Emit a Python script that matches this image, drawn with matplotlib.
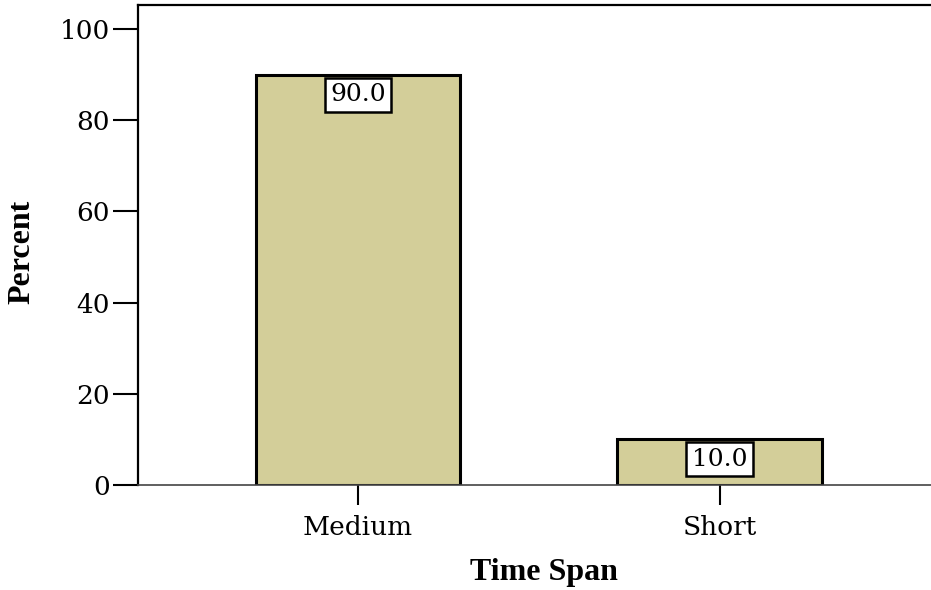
import matplotlib.pyplot as plt

# dati
categories = ["Medium", "Short"]
percent = [90.0, 10.0]
y_ticks = [0, 20, 40, 60, 80, 100]

bar_color = "#d3ce99"
tick_font = "DejaVu Serif"
label_font = "Liberation Serif"

fig = plt.figure(figsize=(9.31, 5.90), dpi=100)
ax = fig.add_axes([138 / 931, 105 / 590, 802 / 931, 480 / 590])

x = list(range(len(categories)))
bars = ax.bar(x, percent, width=0.566, color=bar_color, edgecolor="black", linewidth=2.2, zorder=2)

# etichette dei valori dentro le barre
for xi, v in zip(x, percent):
    ax.annotate(f"{v:.1f}", xy=(xi, v), xytext=(0, -6), textcoords="offset points",
                ha="center", va="top", fontsize=18, family=tick_font, zorder=3,
                bbox=dict(boxstyle="square,pad=0.22", facecolor="white", edgecolor="black", linewidth=1.8))

ax.set_xlim(-0.609, 1.61)
ax.set_ylim(0, 105.3)
ax.set_yticks(y_ticks)
ax.set_xticks(x)
ax.set_xticklabels(categories)

for lab in ax.get_xticklabels() + ax.get_yticklabels():
    lab.set_family(tick_font)
    lab.set_fontsize(19)

ax.tick_params(axis="y", direction="out", length=18, width=1.5, pad=2)
ax.tick_params(axis="x", direction="out", length=14.5, width=1.5, pad=7)

ax.spines["right"].set_visible(False)
ax.spines["top"].set_linewidth(1.6)
ax.spines["left"].set_linewidth(1.6)
ax.spines["bottom"].set_linewidth(1.2)
ax.spines["bottom"].set_color("#444444")

ax.set_xlabel("Time Span", family=label_font, fontweight="bold", fontsize=23, va="center")
ax.set_ylabel("Percent", family=label_font, fontweight="bold", fontsize=23, va="center")
ax.xaxis.set_label_coords(0.506, -0.183)
ax.yaxis.set_label_coords(-0.1446, 0.485)

fig.savefig("out.png", dpi=100)
